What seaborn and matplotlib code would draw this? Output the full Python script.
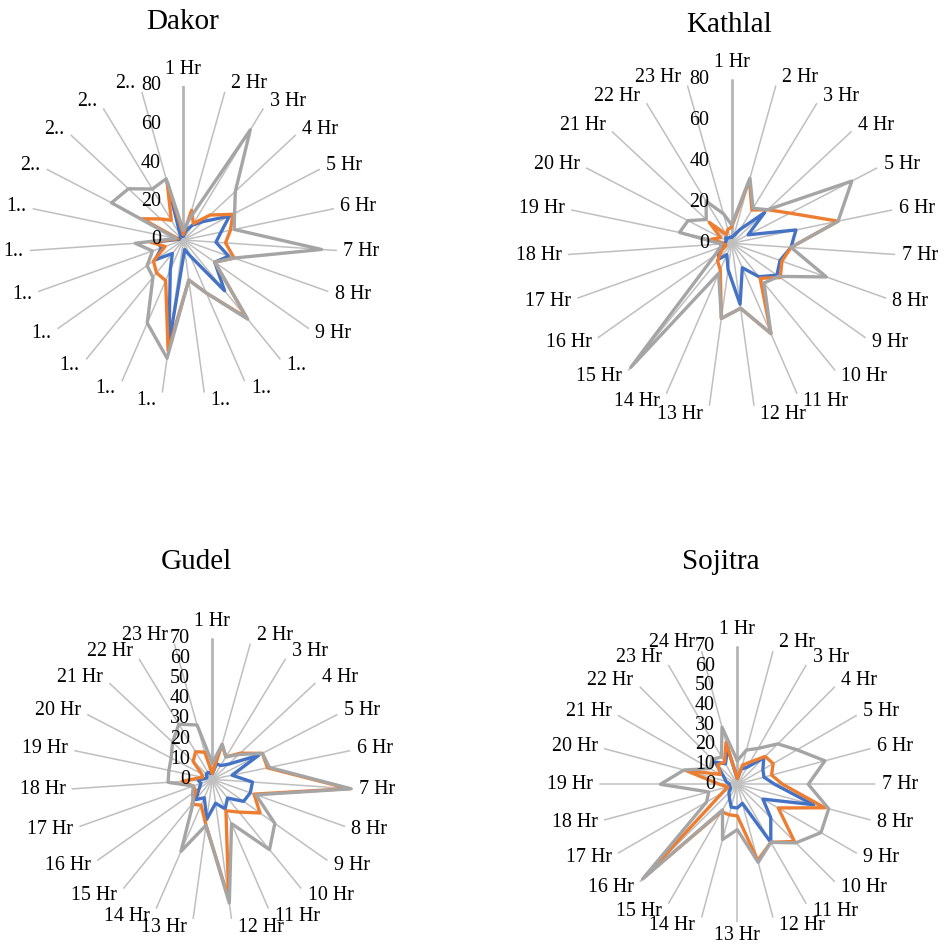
import numpy as np
import pandas as pd
import matplotlib
matplotlib.use("Agg")
import matplotlib.pyplot as plt
import seaborn as sns

sns.set_theme(style="white")
plt.rcParams["font.family"] = ["Liberation Serif", "DejaVu Serif"]
plt.rcParams["text.color"] = "black"

# ---- data ----
series_names = ["Series1", "Series2", "Series3"]
series_colors = ["#4472C4", "#ED7D31", "#A5A5A5"]

hours_23 = [f"{h} Hr" for h in range(1, 24)]
hours_24 = [f"{h} Hr" for h in range(1, 25)]
dakor_labels = [f"{h} Hr" for h in range(1, 10)] + ["1.."] * 10 + ["2.."] * 4

dakor_blue = [2, 5, 9, 14, 27, 20, 17, 25, 20, 34, 9, 5, 55, 17, 9, 18, 12, 14, 2, 2, 2, 3, 31]
dakor_orange = [3, 16, 10, 19, 29, 25, 22, 28, 20, 52, 30, 21, 58, 23, 22, 19, 10, 17, 3, 24, 16, 12, 31]
dakor_gray = [5, 11, 67, 37, 30, 27, 72, 28, 20, 53, 30, 21, 62, 47, 25, 23, 17, 25, 4, 42, 39, 31, 33]

kathlal_blue = [3, 4, 8, 22, 9, 32, 29, 25, 27, 21, 13, 30, 13, 6, 10, 8, 4, 4, 3, 3, 4, 3, 3]
kathlal_orange = [8, 32, 19, 24, 32, 53, 29, 26, 29, 22, 48, 32, 37, 14, 11, 6, 3, 4, 10, 6, 15, 5, 7]
kathlal_gray = [9, 33, 20, 24, 66, 53, 29, 49, 28, 25, 48, 32, 37, 16, 78, 10, 6, 5, 26, 24, 17, 24, 15]

gudel_blue = [3, 8, 8, 11, 26, 10, 20, 20, 19, 12, 16, 12, 20, 10, 13, 8, 6, 7, 3, 3, 4, 4, 3]
gudel_orange = [3, 18, 13, 19, 28, 28, 68, 22, 29, 21, 17, 60, 23, 14, 16, 10, 10, 15, 5, 6, 13, 16, 14]
gudel_gray = [8, 18, 13, 18, 28, 29, 69, 23, 38, 45, 24, 62, 23, 39, 15, 12, 10, 22, 22, 23, 27, 32, 28]

sojitra_blue = [3, 8, 10, 19, 15, 14, 19, 40, 15, 24, 34, 10, 12, 12, 8, 6, 4, 4, 4, 6, 8, 16, 12, 19]
sojitra_orange = [3, 10, 13, 20, 21, 18, 23, 46, 24, 41, 34, 40, 16, 16, 16, 66, 9, 5, 9, 27, 10, 14, 13, 22]
sojitra_gray = [12, 18, 21, 29, 35, 46, 36, 48, 49, 42, 34, 41, 23, 29, 15, 68, 18, 15, 39, 28, 16, 18, 16, 30]

dakor_ticks = [0, 20, 40, 60, 80]
kathlal_ticks = [0, 20, 40, 60, 80]
gudel_ticks = [0, 10, 20, 30, 40, 50, 60, 70]
sojitra_ticks = [0, 10, 20, 30, 40, 50, 60, 70]

W, H = 946, 950
fig = plt.figure(figsize=(W / 100, H / 100), dpi=100)


def radar(name, labels, blue, orange, gray, ticks, cx, cy, R, title_xy):
    ax = fig.add_axes([(cx - R) / W, 1 - (cy + R) / H, 2 * R / W, 2 * R / H],
                      projection="polar")
    ax.set_facecolor("none")
    n = len(labels)
    theta = np.linspace(0, 2 * np.pi, n, endpoint=False)
    frames = []
    for s, vals in zip(series_names, [blue, orange, gray]):
        frames.append(pd.DataFrame({
            "theta": np.append(theta, 2 * np.pi),
            "value": list(vals) + [vals[0]],
            "series": s,
        }))
    df = pd.concat(frames, ignore_index=True)
    sns.lineplot(data=df, x="theta", y="value", hue="series",
                 hue_order=series_names, palette=series_colors,
                 sort=False, estimator=None, linewidth=2.4,
                 legend=False, ax=ax)

    rmax = ticks[-1]
    ax.set_theta_zero_location("N")
    ax.set_theta_direction(-1)
    ax.set_ylim(0, rmax)
    ax.set_yticks([])
    ax.set_xticks(theta)
    ax.set_xticklabels([])
    ax.tick_params(axis="x", length=0)
    ax.set_xlabel("")
    ax.set_ylabel("")
    ax.spines["polar"].set_visible(False)
    ax.xaxis.grid(True, color="#BFBFBF", linewidth=1.1)
    gl = ax.xaxis.get_gridlines()
    gl[0].set_linewidth(2.0)
    gl[0].set_color("#B4B4B4")

    # category labels at the spoke ends
    for t, lab in zip(theta, labels):
        s, c = np.sin(t), np.cos(t)
        if abs(s) < 0.1:
            ha = "center"
            va = "bottom" if c > 0 else "top"
            dx, dy = 0, (5 if c > 0 else -3)
        else:
            ha = "left" if s > 0 else "right"
            va = "center"
            dx, dy = 4.5 * np.sign(s), 6 * c
        ax.annotate(lab, xy=(t, rmax), xytext=(dx, dy), textcoords="offset points",
                    ha=ha, va=va, fontsize=14.4, color="black", annotation_clip=False)

    # value axis labels beside the first spoke
    for v in ticks:
        ax.annotate(str(v), xy=(0, v), xytext=(-16, 0), textcoords="offset points",
                    ha="right", va="center", fontsize=14.4, color="black",
                    annotation_clip=False)

    fig.text(title_xy[0] / W, 1 - title_xy[1] / H, name, ha="center", va="center",
             fontsize=21, color="black")
    return ax


radar("Dakor", dakor_labels, dakor_blue, dakor_orange, dakor_gray, dakor_ticks,
      183.3, 240, 154, (183, 22))
radar("Kathlal", hours_23, kathlal_blue, kathlal_orange, kathlal_gray, kathlal_ticks,
      731.7, 243.3, 164, (729, 25))
radar("Gudel", hours_23, gudel_blue, gudel_orange, gudel_gray, gudel_ticks,
      212.3, 779.3, 141, (196, 562))
radar("Sojitra", hours_24, sojitra_blue, sojitra_orange, sojitra_gray, sojitra_ticks,
      737.3, 784.3, 138, (721, 562))

fig.savefig("out.png", dpi=100, facecolor="white")
